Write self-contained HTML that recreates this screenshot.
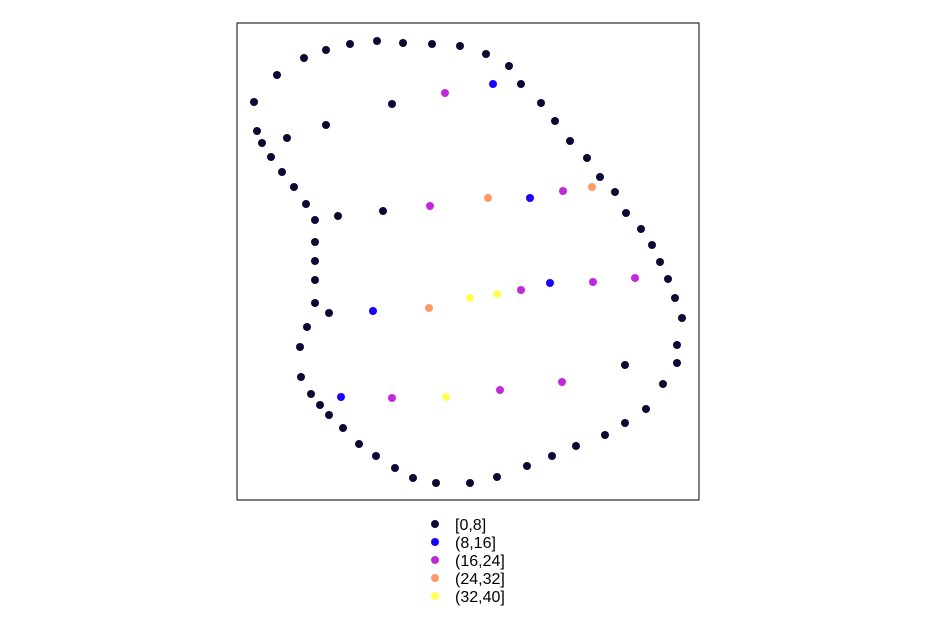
<!DOCTYPE html>
<html><head><meta charset="utf-8"><style>
html,body{margin:0;padding:0;background:#fff;}
svg{display:block;font-family:"Liberation Sans",sans-serif;}
</style></head><body>
<svg id="chart" width="929" height="617">
<rect x="237" y="23" width="462" height="477" fill="none" stroke="#000" stroke-width="1"/>
<g id="points"></g>
<g id="legend"></g>
</svg>
<script>
const categories = ["[0,8]","(8,16]","(16,24]","(24,32]","(32,40]"];
const colors = ["#0b0933","#1a00ff","#c02adb","#ff9966","#ffff55"];
const xs = [254,257,262,271,282,294,306,315,315,315,315,315,307,300,301,311,320,329,343,359,376,395,413,436,470,497,527,552,576,605,625,646,663,677,677,682,675,668,660,652,641,626,615,600,587,570,555,541,521,509,486,460,432,403,377,350,326,304,277,287,326,392,338,383,329,625,
493,530,550,373,341,
445,430,563,521,593,635,392,500,562,
488,592,429,
470,497,446];
const ys = [102,131,143,157,172,187,204,220,242,261,280,303,327,347,377,394,405,415,428,444,456,468,478,483,483,477,466,456,446,435,423,409,384,363,345,318,298,279,262,245,229,213,192,177,158,141,121,103,84,66,54,46,44,43,41,44,50,58,75,138,125,104,216,211,313,365,
84,198,283,311,397,
93,206,191,290,282,278,398,390,382,
198,187,308,
298,294,397];
const groups = [0,0,0,0,0,0,0,0,0,0,0,0,0,0,0,0,0,0,0,0,0,0,0,0,0,0,0,0,0,0,0,0,0,0,0,0,0,0,0,0,0,0,0,0,0,0,0,0,0,0,0,0,0,0,0,0,0,0,0,0,0,0,0,0,0,0,
1,1,1,1,1,
2,2,2,2,2,2,2,2,2,
3,3,3,
4,4,4];
const NS="http://www.w3.org/2000/svg";
function sx(v){return 237 + (v-237)*1;}
function sy(v){return 23 + (v-23)*1;}
const pg=document.getElementById('points');
for(let i=0;i<xs.length;i++){
  const c=document.createElementNS(NS,'circle');
  c.setAttribute('cx',sx(xs[i]));c.setAttribute('cy',sy(ys[i]));c.setAttribute('r',4);
  c.setAttribute('fill',colors[groups[i]]);
  
  
  pg.appendChild(c);
}
const lg=document.getElementById('legend');
categories.forEach((t,i)=>{
  const y=524+i*18;
  const c=document.createElementNS(NS,'circle');
  c.setAttribute('cx',435);c.setAttribute('cy',y);c.setAttribute('r',4);c.setAttribute('fill',colors[i]);
  
  
  lg.appendChild(c);
  const tx=document.createElementNS(NS,'text');
  tx.setAttribute('x',455);tx.setAttribute('y',y+6);tx.setAttribute('font-size','16');tx.setAttribute('fill','#000');
  tx.textContent=t;
  
  
  lg.appendChild(tx);
});
</script>
</body></html>
